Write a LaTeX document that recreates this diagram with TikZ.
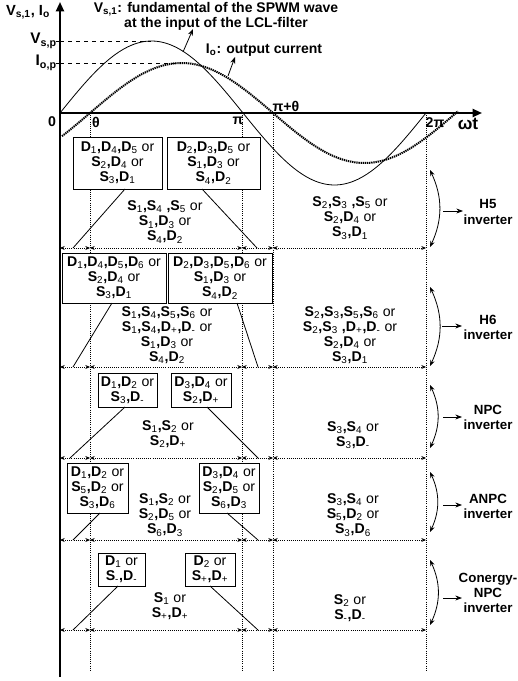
\documentclass[tikz,border=0pt]{standalone}
\usepackage{fontspec}
\setmainfont{Liberation Sans}
\usetikzlibrary{arrows.meta, positioning, calc}

\newlength\pxl
\setlength\pxl{0.75pt}
\newcommand\Sw[1]{S\textsubscript{\mdseries#1}}
\newcommand\Dw[1]{D\textsubscript{\mdseries#1}}
\newcommand\orw{ {\mdseries or}}

\begin{document}
\begin{tikzpicture}[x=\pxl, y=-\pxl,
    txt/.style={font=\fontsize{10.6}{11.3}\selectfont\bfseries, align=center,
                inner sep=0pt},
    biglab/.style={txt, font=\fontsize{10.5}{11.3}\selectfont\bfseries},
    sidelab/.style={txt, font=\fontsize{10}{11.3}\selectfont\bfseries},
    swbox/.style 2 args={txt, draw, fill=white, line width=0.6pt,
                         minimum width=#1\pxl, minimum height=#2\pxl},
    axis/.style={line width=1.5pt, -{Triangle[length=7pt, width=6pt]}},
    dimline/.style={densely dotted, line width=0.6pt,
                    {Stealth[length=3.5pt, width=3pt]}-{Stealth[length=3.5pt, width=3pt]}},
    vline/.style={densely dotted, line width=0.6pt},
    slant/.style={line width=0.6pt},
    swing/.style={line width=0.6pt, {Stealth[length=4.5pt]}-{Stealth[length=4.5pt]},
                  bend left=25},
    pointer/.style={line width=0.6pt, -{Stealth[length=5pt]}}
  ]
  \useasboundingbox (0,0) rectangle (517,681);

  % axes
  \draw[axis] (60,677) -- (60,2);
  \draw[axis] (60,113) -- (482,113);
  \node[txt, font=\fontsize{11}{12}\selectfont\bfseries] (ylab) at (28,12)
    {V\textsubscript{s,1}, I\textsubscript{o}};
  \node[txt, font=\fontsize{13}{14}\selectfont\bfseries] (wt) at (468,124) {ωt};

  % waveforms
  \draw[line width=0.6pt, domain=60:426, samples=120]
    plot (\x, {113-72*sin(0.98361*(\x-60))});
  \draw[line width=1.5pt, dash pattern=on 1pt off 0.6pt, domain=62:458, samples=120]
    plot (\x, {113-50*sin(0.98361*(\x-90))});
  \draw[dashed, line width=0.6pt] (60,41) -- (151,41);
  \draw[dashed, line width=0.6pt] (60,63) -- (181,63);
  \draw[line width=0.6pt] (56,41) -- (60,41) (56,63) -- (60,63);
  \node[txt, font=\fontsize{11.5}{12}\selectfont\bfseries, anchor=east] (vsp)
    at (57,41) {V\textsubscript{s,p}};
  \node[txt, font=\fontsize{11.5}{12}\selectfont\bfseries, anchor=east] (iop)
    at (57,63) {I\textsubscript{o,p}};

  % phase marks
  \node[txt] (zero) at (52,122) {0};
  \node[txt] (th) at (96,122) {θ};
  \node[txt] (pi) at (238,121) {π};
  \node[txt] (pith) at (286,106) {π+θ};
  \node[txt] (tpi) at (435,123) {2π};
  \foreach \xx in {90,242,273,426}
    \draw[vline] (\xx,113) -- (\xx,670);

  % curve labels
  \node[biglab] (vslab) at (216,16)
    {V\textsubscript{s,1}: fundamental of the SPWM wave\\at the input of the LCL-filter};
  \node[biglab] (iolab) at (264,50) {I\textsubscript{o}: output current};
  \draw[pointer] (183,52) -- (193,29);
  \draw[pointer] (228,76) -- (235,57);

  % dimension rows
  \foreach \yy in {248,367,458,540,630}
    \foreach \a/\b in {60/90, 90/242, 242/273, 273/426}
      \draw[dimline] (\a,\yy) -- (\b,\yy);

  % H5 inverter
  \node[swbox={89}{52}] (h5a) at (117.5,163)
    {\Dw1,\Dw4,\Dw5\orw\\\Sw2,\Dw4\orw\\\Sw3,\Dw1};
  \node[swbox={93}{52}] (h5b) at (213.5,163)
    {\Dw2,\Dw3,\Dw5\orw\\\Sw1,\Dw3\orw\\\Sw4,\Dw2};
  \node[txt] (h5c) at (165,222) {\Sw1,\Sw4 ,\Sw5\orw\\\Sw1,\Dw3\orw\\\Sw4,\Dw2};
  \node[txt] (h5d) at (350,218) {\Sw2,\Sw3 ,\Sw5\orw\\\Sw2,\Dw4\orw\\\Sw3,\Dw1};
  \draw[slant] (125,189) -- (73,248);
  \draw[slant] (202,189) -- (257,248);
  \node[sidelab] (h5) at (488,212) {H5\\inverter};
  \draw[swing] (430,170) to (430,247);
  \draw[pointer] (443,211) -- (463,211);

  % H6 inverter
  \node[swbox={104}{50}] (h6a) at (114,278)
    {\Dw1,\Dw4,\Dw5,\Dw6\orw\\\Sw2,\Dw4\orw\\\Sw3,\Dw1};
  \node[swbox={104}{50}] (h6b) at (220,278)
    {\Dw2,\Dw3,\Dw5,\Dw6\orw\\\Sw1,\Dw3\orw\\\Sw4,\Dw2};
  \node[txt] (h6c) at (167,335)
    {\Sw1,\Sw4,\Sw5,\Sw6\orw\\\Sw1,\Sw4,\Dw{+},\Dw{-}\orw\\\Sw1,\Dw3\orw\\\Sw4,\Dw2};
  \node[txt] (h6d) at (350,335)
    {\Sw2,\Sw3,\Sw5,\Sw6\orw\\\Sw2,\Sw3 ,\Dw{+},\Dw{-}\orw\\\Sw2,\Dw4\orw\\\Sw3,\Dw1};
  \draw[slant] (112,303) -- (73,367);
  \draw[slant] (237,303) -- (258,367);
  \node[sidelab] (h6) at (488,327) {H6\\inverter};
  \draw[swing] (430,287) to (430,366);
  \draw[pointer] (442,326) -- (462,326);

  % NPC inverter
  \node[swbox={59}{34}] (npca) at (127.5,390) {\Dw1,\Dw2\orw\\\Sw3,\Dw{-}};
  \node[swbox={60}{34}] (npcb) at (201,390) {\Dw3,\Dw4\orw\\\Sw2,\Dw{+}};
  \node[txt] (npcc) at (168,434) {\Sw1,\Sw2\orw\\\Sw2,\Dw{+}};
  \node[txt] (npcd) at (353,435) {\Sw3,\Sw4\orw\\\Sw3,\Dw{-}};
  \draw[slant] (125,407) -- (70,458);
  \draw[slant] (207,407) -- (258,458);
  \node[sidelab] (npc) at (488,417) {NPC\\inverter};
  \draw[swing] (430,385) to (430,448);
  \draw[pointer] (443,417) -- (462,417);

  % ANPC inverter
  \node[swbox={61}{50}] (anpca) at (97.5,488)
    {\Dw1,\Dw2\orw\\\Sw5,\Dw2\orw\\\Sw3,\Dw6};
  \node[swbox={60}{50}] (anpcb) at (229,488)
    {\Dw3,\Dw4\orw\\\Sw2,\Dw5\orw\\\Sw6,\Dw3};
  \node[txt] (anpcc) at (165,515) {\Sw1,\Sw2\orw\\\Sw2,\Dw5\orw\\\Sw6,\Dw3};
  \node[txt] (anpcd) at (353,515) {\Sw3,\Sw4\orw\\\Sw5,\Dw2\orw\\\Sw3,\Dw6};
  \draw[slant] (100,513) -- (73,540);
  \draw[slant] (227,513) -- (258,540);
  \node[sidelab] (anpc) at (488,506) {ANPC\\inverter};
  \draw[swing] (430,472) to (430,532);
  \draw[pointer] (443,505) -- (462,505);

  % Conergy-NPC inverter
  \node[swbox={47}{33}] (cnpca) at (121.5,569.5) {\Dw1\orw\\\Sw{-},\Dw{-}};
  \node[swbox={50}{33}] (cnpcb) at (210,569.5) {\Dw2\orw\\\Sw{+},\Dw{+}};
  \node[txt] (cnpcc) at (170,606) {\Sw1\orw\\\Sw{+},\Dw{+}};
  \node[txt] (cnpcd) at (350,608) {\Sw2\orw\\\Sw{-},\Dw{-}};
  \draw[slant] (118,586) -- (73,630);
  \draw[slant] (210,586) -- (258,630);
  \node[sidelab] (cnpc) at (488,593) {Conergy-\\NPC\\inverter};
  \draw[swing] (430,560) to (430,625);
  \draw[pointer] (443,598) -- (462,598);
\end{tikzpicture}
\end{document}
